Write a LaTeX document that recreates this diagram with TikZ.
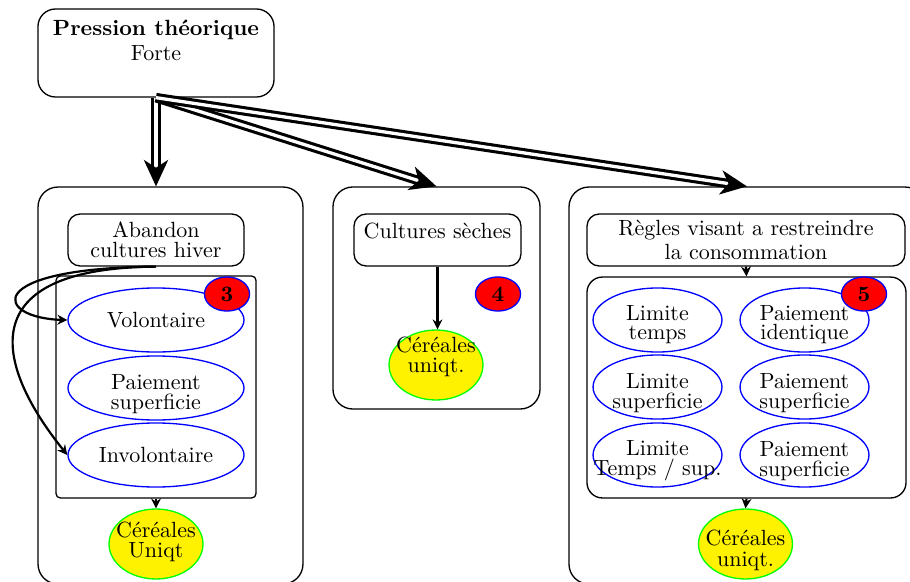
\documentclass[tikz,border=0pt]{standalone}
\usetikzlibrary{arrows.meta,shapes.geometric}
\begin{document}
\begin{tikzpicture}[x=0.4545pt,y=-0.4545pt,
  box/.style={draw, line width=0.6pt, rounded corners=#1, inner sep=0pt, align=center},
  box/.default=5pt,
  ell/.style={ellipse, draw=blue, line width=0.6pt, inner sep=0pt, minimum height=29.1pt},
  lbl/.style={align=center, inner sep=0pt},
  badge/.style={ellipse, draw=blue, fill=red, line width=0.6pt, inner sep=0pt, minimum width=20.5pt, minimum height=15.5pt, font=\bfseries},
  cer/.style={ellipse, draw=green, fill=yellow, line width=0.6pt, inner sep=0pt, minimum width=42.7pt, minimum height=31.8pt},
  dbl/.style={double, line width=1.4pt, double distance=1.5pt, -{Stealth[length=12pt,width=11pt,inset=3.5pt]}},
  sm/.style={line width=1pt, -{Stealth[length=4.5pt,width=4.5pt]}}
]
\path[use as bounding box, clip] (0,0) rectangle (910,582);
\fill[white] (0,0) rectangle (910,582);

% top box
\node[box=8pt, minimum width=107.3pt, minimum height=40pt] (top) at (156,53) {};
\node[align=center] (toptext) at (156,40) {\textbf{Pression théorique}\\[-0.6pt]Forte};

% big containers
\node[box=9pt, minimum width=120.4pt, minimum height=180.4pt] (leftbig) at (170.5,385.5) {};
\node[box=9pt, minimum width=94.1pt, minimum height=100.9pt] (midbig) at (436.5,298) {};
\node[box=9pt, minimum width=161.8pt, minimum height=180.4pt] (rightbig) at (747,385.5) {};

% left column
\node[box=5.5pt, minimum width=80pt, minimum height=23.6pt] (abandon) at (156,240) {Abandon\\[-3pt]cultures hiver};
\node[box=2pt, minimum width=90.9pt, minimum height=100.9pt] (leftinner) at (156,387) {};
\node[ell, minimum width=80pt] (vol) at (156,320) {Volontaire};
\node[ell, minimum width=80pt, label={[lbl, yshift=-2.7pt]center:{Paiement\\[-3pt]superficie}}] (paisup) at (156,388) {};
\node[ell, minimum width=80pt] (invol) at (156,455) {Involontaire};
\node[badge] (b3) at (227,294) {3};
\node[cer, label={[lbl, yshift=1pt]center:{Céréales\\[-3pt]Uniqt}}] (cerleft) at (156,544) {};

% middle column
\node[box=5.5pt, minimum width=75.9pt, minimum height=23.6pt] (cultures) at (437.5,240) {};
\node (culturestext) at (437.5,231) {Cultures sèches};
\node[badge] (b4) at (498,294) {4};
\node[cer, label={[lbl, yshift=3.5pt]center:{Céréales\\[-2.9pt]uniqt.}}] (cermid) at (436,365) {};

% right column
\node[box=5.5pt, minimum width=144.5pt, minimum height=23.6pt] (regles) at (746,240) {Règles visant a restreindre\\[-1.1pt]la consommation};
\node[box=7pt, minimum width=145pt, minimum height=100.4pt] (rightinner) at (746.5,387.5) {};
\node[ell, minimum width=58.6pt, label={[lbl, yshift=-2pt]center:{Limite\\[-3.3pt]temps}}] (r11) at (657.5,320) {};
\node[ell, minimum width=58.6pt, label={[lbl, yshift=-2pt]center:{Paiement\\[-3.3pt]identique}}] (r12) at (804.5,320) {};
\node[ell, minimum width=58.6pt, label={[lbl, yshift=-2.7pt]center:{Limite\\[-3pt]superficie}}] (r21) at (657.5,387) {};
\node[ell, minimum width=58.6pt, label={[lbl, yshift=-2.7pt]center:{Paiement\\[-3pt]superficie}}] (r22) at (804.5,387) {};
\node[ell, minimum width=58.6pt, label={[lbl, yshift=-2.7pt]center:{Limite\\[-3pt]Temps / sup.}}] (r31) at (657.5,455) {};
\node[ell, minimum width=58.6pt, label={[lbl, yshift=-2.7pt]center:{Paiement\\[-3pt]superficie}}] (r32) at (804.5,455) {};
\node[badge] (b5) at (864,294) {5};
\node[cer, label={[lbl, yshift=-2.9pt]center:{Céréales\\[-2.6pt]uniqt.}}] (cerright) at (745.5,544) {};

% double arrows
\draw[dbl] (top.south) -- (top.south |- leftbig.north);
\draw[dbl] (top.south) -- (midbig.north);
\draw[dbl] (top.south) -- (rightbig.north);

% small arrows
\draw[sm] (abandon.south) .. controls (-20,268) and (-5,318) .. (vol.west);
\draw[sm] (abandon.south) .. controls (-30,268) and (-5,365) .. (invol.west);
\draw[sm] (leftinner.south) -- (cerleft.north);
\draw[sm, line width=1.3pt] (cultures.south) -- (cultures.south |- cermid.north);
\draw[sm] (regles.south) -- (rightinner.north);
\draw[sm] (rightinner.south) -- (cerright.north);
\end{tikzpicture}
\end{document}
